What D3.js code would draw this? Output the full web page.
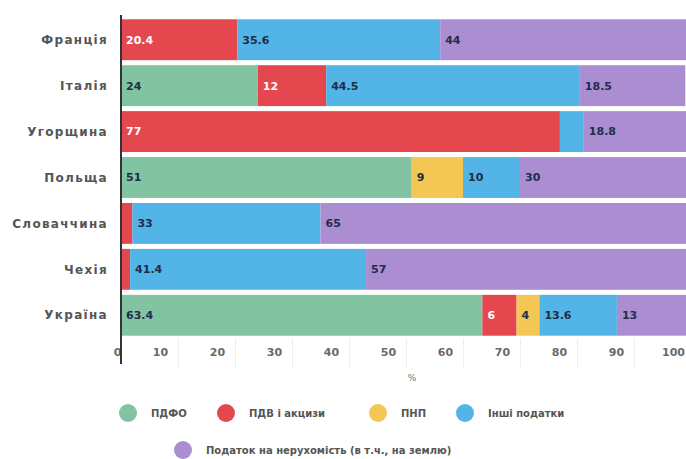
<!DOCTYPE html>
<html>
<head>
<meta charset="utf-8">
<script src="https://cdn.jsdelivr.net/npm/d3@7"></script>
<style>
    body { margin: 0; background: #fff; }
    text { font-family: "DejaVu Sans", sans-serif; }
</style>
</head>
<body>
<div id="chart"></div>
<script>
// data
const countries = ["Франція", "Італія", "Угорщина", "Польща", "Словаччина", "Чехія", "Україна"];
const seriesNames = ["ПДФО", "ПДВ і акцизи", "ПНП", "Інші податки", "Податок на нерухомість (в т.ч., на землю)"];
const pdfo     = [0,    24,   0,    51, 0,  0,    63.4];
const pdv      = [20.4, 12,   77,   0,  2,  1.6,  6];
const pnp      = [0,    0,    0,    9,  0,  0,    4];
const other    = [35.6, 44.5, 4.2,  10, 33, 41.4, 13.6];
const property = [44,   18.5, 18.8, 30, 65, 57,   13];
const unlabeled = [["Угорщина", "Інші податки"], ["Словаччина", "ПДВ і акцизи"], ["Чехія", "ПДВ і акцизи"]];
const xTicks = [0, 10, 20, 30, 40, 50, 60, 70, 80, 90, 100];
const colors = ["#82c4a1", "#e5474f", "#f4c654", "#52b4e7", "#ab8dd2"];

const width = 686, height = 459;

const table = countries.map((c, i) => ({
    country: c,
    [seriesNames[0]]: pdfo[i],
    [seriesNames[1]]: pdv[i],
    [seriesNames[2]]: pnp[i],
    [seriesNames[3]]: other[i],
    [seriesNames[4]]: property[i]
}));

const svg = d3.select("#chart").append("svg")
    .attr("width", width)
    .attr("height", height);

const xScale = d3.scaleLinear().domain([0, 100]).range([121, 691]);
const yScale = d3.scaleBand().domain(countries).range([17, 338])
    .paddingInner(0.11).paddingOuter(0.05);
const color = d3.scaleOrdinal().domain(seriesNames).range(colors);

const stacked = d3.stack().keys(seriesNames)(table);

// axis with faint tick lines, labels sit left of their ticks like the source
const xAxis = d3.axisBottom(xScale).tickValues(xTicks).tickSize(30).tickPadding(0);
const axisG = svg.append("g")
    .attr("transform", `translate(0, 338)`)
    .call(xAxis);
axisG.select(".domain").remove();
axisG.selectAll(".tick line").attr("stroke", "#eeeeee");
axisG.selectAll(".tick text")
    .attr("y", 10)
    .attr("dy", "0.71em")
    .attr("dx", d => d === 0 ? -4 : -18)
    .attr("fill", "#6a6a6a")
    .attr("font-size", 11)
    .attr("font-weight", "bold")
    .attr("font-family", "DejaVu Sans, sans-serif");

const layers = svg.append("g").selectAll("g")
    .data(stacked)
    .join("g")
    .attr("fill", d => color(d.key));

layers.selectAll("rect")
    .data(d => d.map(s => Object.assign(s, {key: d.key})))
    .join("rect")
    .attr("x", d => xScale(d[0]))
    .attr("y", d => yScale(d.data.country))
    .attr("width", d => Math.max(0, xScale(d[1]) - xScale(d[0])))
    .attr("height", yScale.bandwidth());

const isHidden = d => unlabeled.some(u => u[0] === d.data.country && u[1] === d.key);

layers.selectAll("text")
    .data(d => d.filter(s => s.data[s.key] > 0 && !isHidden(s)))
    .join("text")
    .attr("x", d => xScale(d[0]) + 5)
    .attr("y", d => yScale(d.data.country) + yScale.bandwidth() / 2)
    .attr("dy", "0.35em")
    .attr("fill", d => d.key === seriesNames[1] ? "#ffffff" : "#1f2d4a")
    .attr("font-size", 11)
    .attr("font-weight", "bold")
    .text(d => d.data[d.key]);

// country labels
svg.append("g").selectAll("text")
    .data(countries)
    .join("text")
    .attr("x", 108)
    .attr("y", d => yScale(d) + yScale.bandwidth() / 2)
    .attr("dy", "0.35em")
    .attr("text-anchor", "end")
    .attr("fill", "#555")
    .attr("font-size", 12)
    .attr("font-weight", "bold")
    .attr("letter-spacing", 1.3)
    .text(d => d);

// vertical baseline
svg.append("line")
    .attr("x1", xScale(0)).attr("x2", xScale(0))
    .attr("y1", 15).attr("y2", 364)
    .attr("stroke", "#333")
    .attr("stroke-width", 2);

svg.append("text")
    .attr("x", 412).attr("y", 381)
    .attr("text-anchor", "middle")
    .attr("fill", "#777")
    .attr("font-size", 9)
    .text("%");

// legend
const legendPos = [[128, 413], [226, 413], [378, 413], [465, 413], [183, 450]];
const legend = svg.append("g").selectAll("g")
    .data(seriesNames)
    .join("g")
    .attr("transform", (d, i) => `translate(${legendPos[i][0]}, ${legendPos[i][1]})`);
legend.append("circle")
    .attr("r", 9)
    .attr("fill", d => color(d));
legend.append("text")
    .attr("x", 23)
    .attr("dy", "0.35em")
    .attr("fill", "#555")
    .attr("font-size", 10)
    .attr("font-weight", "bold")
    .text(d => d);
</script>
</body>
</html>
